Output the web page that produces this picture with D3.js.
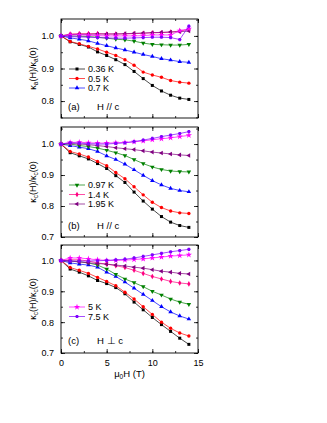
<!DOCTYPE html>
<html>
<head>
<meta charset="utf-8">
<script src="https://cdn.jsdelivr.net/npm/d3@7/dist/d3.min.js"></script>
<style>
  body { margin: 0; background: #fff; }
  svg text { font-family: 'Liberation Sans', Arial, sans-serif; fill: #000; }
</style>
</head>
<body>
<div id="chart"></div>
<script>
// magnetic field, T
const fieldH = [0, 1, 2, 3, 4, 5, 6, 7, 8, 9, 10, 11, 12, 13, 14]

const temps = ['0.36 K', '0.5 K', '0.7 K', '0.97 K', '1.4 K', '1.95 K', '5 K', '7.5 K']

// (a) kappa_a, H // c
const a036 = [1.0, 0.982, 0.974, 0.966, 0.951, 0.940, 0.927, 0.912, 0.891, 0.869, 0.848, 0.831, 0.818, 0.809, 0.805]
const a05 = [1.0, 0.983, 0.976, 0.968, 0.960, 0.950, 0.940, 0.927, 0.910, 0.889, 0.880, 0.873, 0.863, 0.858, 0.855]
const a07 = [1.0, 0.994, 0.990, 0.985, 0.977, 0.970, 0.963, 0.957, 0.950, 0.943, 0.937, 0.930, 0.926, 0.921, 0.919]
const a097 = [1.0, 1.0, 0.999, 0.998, 0.996, 0.993, 0.990, 0.988, 0.984, 0.978, 0.974, 0.973, 0.972, 0.972, 0.974]
const a14 = [1.0, 1.006, 1.007, 1.007, 1.007, 1.006, 1.006, 1.006, 1.007, 1.008, 1.010, 1.010, 1.012, 1.015, 1.020]
const a195 = [1.0, 1.004, 1.005, 1.005, 1.006, 1.006, 1.006, 1.007, 1.008, 1.009, 1.010, 1.011, 1.012, 1.013, 1.015]
const a5 = [1.0, 1.003, 1.003, 1.002, 1.001, 1.0, 1.0, 1.0, 1.0, 1.001, 1.003, 1.003, 1.003, 1.016, 1.022]
const a75 = [1.0, 0.998, 0.997, 0.996, 0.995, 0.994, 0.993, 0.993, 0.994, 0.995, 0.996, 0.996, 0.995, 0.989, 1.030]

// (b) kappa_c, H // c
const b036 = [1.0, 0.972, 0.962, 0.952, 0.937, 0.921, 0.898, 0.876, 0.845, 0.816, 0.790, 0.766, 0.748, 0.737, 0.731]
const b05 = [1.0, 0.976, 0.968, 0.958, 0.944, 0.930, 0.908, 0.888, 0.862, 0.836, 0.812, 0.795, 0.784, 0.778, 0.776]
const b07 = [1.0, 0.995, 0.990, 0.985, 0.976, 0.962, 0.950, 0.935, 0.917, 0.899, 0.882, 0.868, 0.857, 0.850, 0.846]
const b097 = [1.0, 1.0, 0.995, 0.992, 0.987, 0.980, 0.972, 0.963, 0.950, 0.937, 0.926, 0.918, 0.913, 0.911, 0.910]
const b14 = [1.0, 1.005, 1.006, 1.004, 1.003, 1.003, 1.004, 1.005, 1.007, 1.010, 1.014, 1.017, 1.020, 1.024, 1.028]
const b195 = [1.0, 1.002, 1.0, 0.998, 0.995, 0.992, 0.988, 0.985, 0.982, 0.978, 0.974, 0.971, 0.968, 0.965, 0.963]
const b75 = [1.0, 1.004, 1.003, 1.001, 1.0, 1.0, 1.002, 1.004, 1.008, 1.013, 1.018, 1.024, 1.029, 1.034, 1.040]

// (c) kappa_c, H perp c
const c036 = [1.0, 0.972, 0.962, 0.950, 0.935, 0.925, 0.912, 0.892, 0.865, 0.840, 0.815, 0.792, 0.770, 0.748, 0.728]
const c05 = [1.0, 0.977, 0.968, 0.958, 0.945, 0.932, 0.918, 0.897, 0.875, 0.850, 0.825, 0.800, 0.780, 0.765, 0.755]
const c07 = [1.0, 0.992, 0.988, 0.985, 0.978, 0.962, 0.948, 0.930, 0.910, 0.890, 0.870, 0.850, 0.833, 0.820, 0.810]
const c097 = [1.0, 0.998, 0.996, 0.992, 0.985, 0.972, 0.955, 0.940, 0.928, 0.915, 0.900, 0.888, 0.875, 0.865, 0.858]
const c14 = [1.0, 1.002, 1.002, 0.998, 0.992, 0.988, 0.983, 0.977, 0.968, 0.958, 0.948, 0.940, 0.932, 0.927, 0.924]
const c195 = [1.0, 0.998, 0.995, 0.992, 0.990, 0.988, 0.985, 0.982, 0.978, 0.975, 0.970, 0.965, 0.962, 0.958, 0.956]
const c5 = [1.0, 1.008, 1.008, 1.005, 1.002, 1.0, 1.0, 1.001, 1.003, 1.005, 1.008, 1.011, 1.014, 1.016, 1.018]
const c75 = [1.0, 0.998, 0.998, 0.998, 0.999, 1.0, 1.002, 1.004, 1.008, 1.013, 1.018, 1.023, 1.028, 1.032, 1.036]

const xTicks = [0, 5, 10, 15]
const yTicksA = [0.8, 0.9, 1.0]
const yTicksBC = [0.7, 0.8, 0.9, 1.0]

// styles per temperature
const colors = ['#000000', '#ff0000', '#0000ff', '#008000', '#ff0080', '#800080', '#ff00ff', '#8000ff']

const hexagon = {
  draw (ctx, size) {
    const r = Math.sqrt(size / 2.6)
    for (let i = 0; i < 6; i++) {
      const a = Math.PI / 3 * i
      if (i === 0) ctx.moveTo(r * Math.cos(a), r * Math.sin(a))
      else ctx.lineTo(r * Math.cos(a), r * Math.sin(a))
    }
    ctx.closePath()
  }
}
const markers = [
  { type: d3.symbolSquare, rot: 0 },
  { type: d3.symbolCircle, rot: 0 },
  { type: d3.symbolTriangle, rot: 0 },
  { type: d3.symbolTriangle, rot: 180 },
  { type: d3.symbolDiamond, rot: 0 },
  { type: d3.symbolTriangle, rot: -90 },
  { type: d3.symbolStar, rot: 0 },
  { type: hexagon, rot: 0 }
]

const panels = [
  { tag: '(a)', field: 'H // c', sub: 'a', top: 19, bottom: 118, domain: [0.748, 1.052], ticks: yTicksA,
    series: [[0, a036], [1, a05], [2, a07], [3, a097], [4, a14], [5, a195], [6, a5], [7, a75]],
    legend: [0, 1, 2], legendY: 69, tagY: 110 },
  { tag: '(b)', field: 'H // c', sub: 'c', top: 127, bottom: 237, domain: [0.7, 1.055], ticks: yTicksBC,
    series: [[0, b036], [1, b05], [2, b07], [3, b097], [5, b195], [6, b14], [7, b75]],
    legend: [3, 4, 5], legendY: 185, tagY: 229 },
  { tag: '(c)', field: 'H \u22a5 c', sub: 'c', top: 245, bottom: 353, domain: [0.7, 1.05], ticks: yTicksBC,
    series: [[0, c036], [1, c05], [2, c07], [3, c097], [4, c14], [5, c195], [6, c5], [7, c75]],
    legend: [6, 7], legendY: 307, tagY: 344 }
]

const left = 61
const right = 198

const svg = d3.select('#chart')
  .append('svg')
  .attr('width', 327)
  .attr('height', 423)

const xScale = d3.scaleLinear().domain([0, 15]).range([left, right])

panels.forEach((p, pi) => {
  const yScale = d3.scaleLinear().domain(p.domain).range([p.bottom, p.top])
  const g = svg.append('g')

  // axes, ticks inward on all sides
  const minorX = d3.range(0, 15.01, 2.5)
  const minorY = d3.range(0.7, 1.06, 0.05).filter(v => v >= p.domain[0] && v <= p.domain[1])

  g.append('g')
    .attr('transform', 'translate(0,' + p.bottom + ')')
    .call(d3.axisBottom(xScale).tickValues(minorX).tickSize(-2).tickFormat(''))
  g.append('g')
    .attr('transform', 'translate(0,' + p.bottom + ')')
    .call(d3.axisBottom(xScale).tickValues(xTicks).tickSize(-4).tickPadding(7)
      .tickFormat(pi === 2 ? d3.format('d') : ''))
  g.append('g')
    .attr('transform', 'translate(0,' + p.top + ')')
    .call(d3.axisTop(xScale).tickValues(minorX).tickSize(-2).tickFormat(''))
  g.append('g')
    .attr('transform', 'translate(0,' + p.top + ')')
    .call(d3.axisTop(xScale).tickValues(xTicks).tickSize(-4).tickFormat(''))

  g.append('g')
    .attr('transform', 'translate(' + left + ',0)')
    .call(d3.axisLeft(yScale).tickValues(minorY).tickSize(-2).tickFormat(''))
  g.append('g')
    .attr('transform', 'translate(' + left + ',0)')
    .call(d3.axisLeft(yScale).tickValues(p.ticks).tickSize(-4).tickPadding(7).tickFormat(d3.format('.1f')))
  g.append('g')
    .attr('transform', 'translate(' + right + ',0)')
    .call(d3.axisRight(yScale).tickValues(minorY).tickSize(-2).tickFormat(''))
  g.append('g')
    .attr('transform', 'translate(' + right + ',0)')
    .call(d3.axisRight(yScale).tickValues(p.ticks).tickSize(-4).tickFormat(''))

  g.selectAll('.domain').remove()
  g.selectAll('.tick line').attr('stroke', '#000').attr('stroke-width', 0.8)
  g.selectAll('.tick text').attr('font-size', 9).attr('fill', '#000')
    .style('font-family', "'Liberation Sans', Arial, sans-serif")

  g.append('rect')
    .attr('x', left)
    .attr('y', p.top)
    .attr('width', right - left)
    .attr('height', p.bottom - p.top)
    .attr('fill', 'none')
    .attr('stroke', '#000')
    .attr('stroke-width', 0.9)

  // data
  const line = d3.line()
    .x((d, i) => xScale(fieldH[i]))
    .y(d => yScale(d))

  p.series.forEach(([k, vals]) => {
    g.append('path')
      .datum(vals)
      .attr('d', line)
      .attr('fill', 'none')
      .attr('stroke', colors[k])
      .attr('stroke-width', 0.7)
    g.selectAll('.m' + k)
      .data(vals)
      .enter()
      .append('path')
      .attr('d', d3.symbol().type(markers[k].type).size(k === 6 ? 12 : 9))
      .attr('transform', (d, i) => 'translate(' + xScale(fieldH[i]) + ',' + yScale(d) + ') rotate(' + markers[k].rot + ')')
      .attr('fill', colors[k])
  })

  // legend
  p.legend.forEach((k, j) => {
    const ly = p.legendY + j * 9.5
    g.append('line')
      .attr('x1', 69).attr('x2', 85)
      .attr('y1', ly).attr('y2', ly)
      .attr('stroke', colors[k]).attr('stroke-width', 0.7)
    g.append('path')
      .attr('d', d3.symbol().type(markers[k].type).size(k === 6 ? 12 : 9))
      .attr('transform', 'translate(77,' + ly + ') rotate(' + markers[k].rot + ')')
      .attr('fill', colors[k])
    g.append('text')
      .attr('x', 88).attr('y', ly + 3.2)
      .attr('font-size', 9)
      .text(temps[k])
  })

  g.append('text')
    .attr('x', 68).attr('y', p.tagY)
    .attr('font-size', 9.5)
    .text(p.tag)
  g.append('text')
    .attr('x', 97).attr('y', p.tagY)
    .attr('font-size', 9.5)
    .text(p.field)

  // y label
  const cy = (p.top + p.bottom) / 2
  const yl = g.append('text')
    .attr('transform', 'translate(36,' + cy + ') rotate(-90)')
    .attr('text-anchor', 'middle')
    .attr('font-size', 9)
  yl.append('tspan').text('\u03ba')
  yl.append('tspan').attr('font-size', 6.5).attr('dy', 2).text(p.sub)
  yl.append('tspan').attr('dy', -2).text('(H)/\u03ba')
  yl.append('tspan').attr('font-size', 6.5).attr('dy', 2).text(p.sub)
  yl.append('tspan').attr('dy', -2).text('(0)')
})

// x label
const xl = svg.append('text')
  .attr('x', (left + right) / 2)
  .attr('y', 377)
  .attr('text-anchor', 'middle')
  .attr('font-size', 9.5)
xl.append('tspan').text('\u03bc')
xl.append('tspan').attr('font-size', 6.5).attr('dy', 2).text('0')
xl.append('tspan').attr('dy', -2).text('H (T)')
</script>
</body>
</html>
